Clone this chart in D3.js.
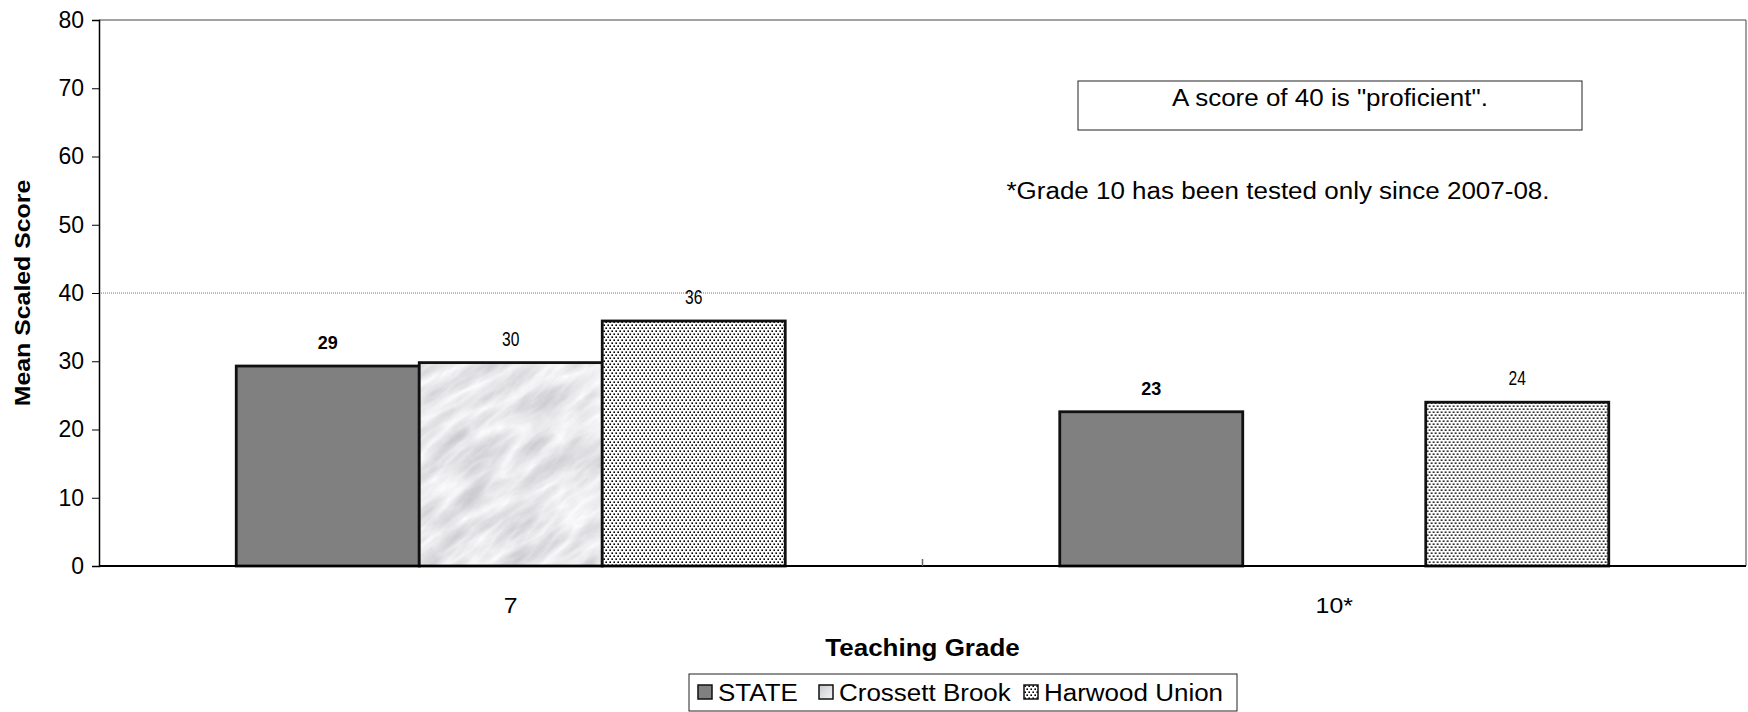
<!DOCTYPE html>
<html>
<head>
<meta charset="utf-8">
<script src="https://cdn.jsdelivr.net/npm/d3@7"></script>
<style>
  body { margin: 0; background: #fff; }
  text { font-family: "Liberation Sans", Arial, sans-serif; fill: #000; }
</style>
</head>
<body>
<div id="chart"></div>
<script>
// data
var grades = ["7", "10*"];
var series = ["STATE", "Crossett Brook", "Harwood Union"];
var stateVals = [29.3, 22.6];
var crossettVals = [29.8, null];
var harwoodVals = [35.9, 24.0];
var yTicks = [0, 10, 20, 30, 40, 50, 60, 70, 80];
var proficient = 40;

var width = 1748, height = 712;
var m = { left: 99, right: 1746, top: 20, bottom: 566 };
var sx = 1.13; // the original text is drawn a bit wide

var svg = d3.select("#chart").append("svg")
  .attr("width", width)
  .attr("height", height);

function place(sel, x, y, k) {
  return sel.attr("transform", "translate(" + x + "," + y + ") scale(" + (k || sx) + ",1)");
}

var defs = svg.append("defs");

// dotted fill for Harwood Union
var dots = defs.append("pattern")
  .attr("id", "dots")
  .attr("patternUnits", "userSpaceOnUse")
  .attr("width", 4)
  .attr("height", 6);
dots.append("rect").attr("width", 4).attr("height", 6).attr("fill", "#fff");
dots.append("rect").attr("x", 0.4).attr("y", 0.4).attr("width", 1.6).attr("height", 1.6).attr("fill", "#000");
dots.append("rect").attr("x", 2.4).attr("y", 3.4).attr("width", 1.6).attr("height", 1.6).attr("fill", "#000");

// marble look for Crossett Brook
var marble = defs.append("filter")
  .attr("id", "marble")
  .attr("x", 0).attr("y", 0).attr("width", 1).attr("height", 1);
marble.append("feTurbulence")
  .attr("type", "turbulence")
  .attr("baseFrequency", "0.012 0.04")
  .attr("numOctaves", 5)
  .attr("seed", 11)
  .attr("result", "noise");
marble.append("feColorMatrix")
  .attr("in", "noise")
  .attr("type", "matrix")
  .attr("values", "-0.5 0 0 0 0.99  -0.5 0 0 0 0.99  -0.47 0 0 0 1  0 0 0 0 1")
  .attr("result", "tone");
marble.append("feComposite")
  .attr("in", "tone")
  .attr("in2", "SourceGraphic")
  .attr("operator", "in");

var marbleP = defs.append("pattern")
  .attr("id", "marbleP")
  .attr("patternUnits", "userSpaceOnUse")
  .attr("width", 600).attr("height", 600)
  .attr("patternTransform", "translate(300,0) rotate(-38)");
marbleP.append("rect")
  .attr("width", 600).attr("height", 600)
  .attr("fill", "#fff")
  .attr("filter", "url(#marble)");

var legendGrad = defs.append("linearGradient")
  .attr("id", "lgGrad").attr("x1", 0).attr("y1", 0).attr("x2", 1).attr("y2", 1);
legendGrad.append("stop").attr("offset", "0%").attr("stop-color", "#c8cacd");
legendGrad.append("stop").attr("offset", "100%").attr("stop-color", "#f4f5f7");

var fills = ["#808080", "url(#marbleP)", "url(#dots)"];

var x0 = d3.scaleBand().domain(grades).range([m.left, m.right]).padding(0);
var x1 = d3.scaleBand().domain(series).range([0, x0.bandwidth()])
  .paddingInner(0).paddingOuter(0.75);
var y = d3.scaleLinear().domain([0, 80]).range([m.bottom, m.top]);

// plot frame (top and right)
svg.append("path")
  .attr("d", "M" + m.left + "," + y(80) + "H" + m.right + "V" + y(0))
  .attr("fill", "none")
  .attr("stroke", "#444")
  .attr("stroke-width", 1);

// proficient reference line
svg.append("line")
  .attr("x1", m.left).attr("x2", m.right)
  .attr("y1", y(proficient)).attr("y2", y(proficient))
  .attr("stroke", "#777")
  .attr("stroke-width", 1)
  .attr("stroke-dasharray", "1,1");

// y axis
var yAxis = svg.append("g")
  .attr("transform", "translate(" + m.left + ",0)")
  .call(d3.axisLeft(y).tickValues(yTicks).tickSize(7).tickPadding(8));
yAxis.select(".domain").attr("stroke", "#000").attr("stroke-width", 1.5);
yAxis.selectAll(".tick line").attr("stroke", "#000");
yAxis.selectAll("text")
  .attr("fill", "#000")
  .style("font-family", "'Liberation Sans', Arial, sans-serif")
  .style("font-size", "23px");

// bars
var rows = grades.map(function(g, i) {
  return { grade: g, values: [stateVals[i], crossettVals[i], harwoodVals[i]] };
});

var groups = svg.selectAll(".grp")
  .data(rows)
  .enter().append("g")
  .attr("class", "grp")
  .attr("transform", function(d) { return "translate(" + x0(d.grade) + ",0)"; });

var bars = groups.selectAll(".bar")
  .data(function(d) {
    return d.values.map(function(v, j) { return { s: series[j], v: v, j: j }; })
      .filter(function(e) { return e.v !== null; });
  })
  .enter().append("g").attr("class", "bar");

bars.append("rect")
  .attr("x", function(d) { return x1(d.s); })
  .attr("y", function(d) { return y(d.v); })
  .attr("width", x1.bandwidth())
  .attr("height", function(d) { return y(0) - y(d.v); })
  .attr("fill", function(d) { return fills[d.j]; })
  .attr("stroke", "#111")
  .attr("stroke-width", 2.8);

// value labels: STATE in bold, the schools in a condensed face
bars.append("text")
  .each(function(d) {
    place(d3.select(this), x1(d.s) + x1.bandwidth() / 2, y(d.v) - 17, d.j === 0 ? 1 : 0.78);
  })
  .attr("text-anchor", "middle")
  .style("font-size", function(d) { return d.j === 0 ? "18px" : "20px"; })
  .style("font-weight", function(d) { return d.j === 0 ? "bold" : "normal"; })
  .text(function(d) { return d3.format(".0f")(d.v); });

// x axis
svg.append("line")
  .attr("x1", m.left).attr("x2", m.right)
  .attr("y1", y(0)).attr("y2", y(0))
  .attr("stroke", "#000").attr("stroke-width", 2);

svg.selectAll(".xdiv")
  .data(grades.slice(1))
  .enter().append("line")
  .attr("x1", function(d) { return x0(d); })
  .attr("x2", function(d) { return x0(d); })
  .attr("y1", y(0)).attr("y2", y(0) - 7)
  .attr("stroke", "#666").attr("stroke-width", 1.5);

svg.selectAll(".xlab")
  .data(grades)
  .enter().append("text")
  .each(function(d) { place(d3.select(this), x0(d) + x0.bandwidth() / 2, 613); })
  .attr("text-anchor", "middle")
  .style("font-size", "22px")
  .text(function(d) { return d; });

// axis titles
place(svg.append("text"), (m.left + m.right) / 2, 656)
  .attr("text-anchor", "middle")
  .style("font-size", "23px")
  .style("font-weight", "bold")
  .text("Teaching Grade");

svg.append("text")
  .attr("transform", "translate(30," + ((m.top + m.bottom) / 2) + ") rotate(-90) scale(" + sx + ",1)")
  .attr("text-anchor", "middle")
  .style("font-size", "22px")
  .style("font-weight", "bold")
  .text("Mean Scaled Score");

// notes
svg.append("rect")
  .attr("x", 1078).attr("y", 81)
  .attr("width", 504).attr("height", 49)
  .attr("fill", "#fff").attr("stroke", "#222").attr("stroke-width", 1);
place(svg.append("text"), 1330, 106)
  .attr("text-anchor", "middle")
  .style("font-size", "23px")
  .text('A score of 40 is "proficient".');

place(svg.append("text"), 1278, 199)
  .attr("text-anchor", "middle")
  .style("font-size", "23px")
  .text("*Grade 10 has been tested only since 2007-08.");

// legend
var legend = svg.append("g");
legend.append("rect")
  .attr("x", 689).attr("y", 674)
  .attr("width", 548).attr("height", 37)
  .attr("fill", "#fff").attr("stroke", "#222").attr("stroke-width", 1);

var legendX = [698, 819, 1024];
var legendFill = ["#808080", "url(#lgGrad)", "url(#dots)"];
var items = legend.selectAll(".li")
  .data(series)
  .enter().append("g")
  .attr("transform", function(d, i) { return "translate(" + legendX[i] + ",685)"; });
items.append("rect")
  .attr("width", 14).attr("height", 14)
  .attr("fill", function(d, i) { return legendFill[i]; })
  .attr("stroke", "#111").attr("stroke-width", 1.5);
items.append("text")
  .each(function() { place(d3.select(this), 20, 16); })
  .style("font-size", "23px")
  .text(function(d) { return d; });
</script>
</body>
</html>
